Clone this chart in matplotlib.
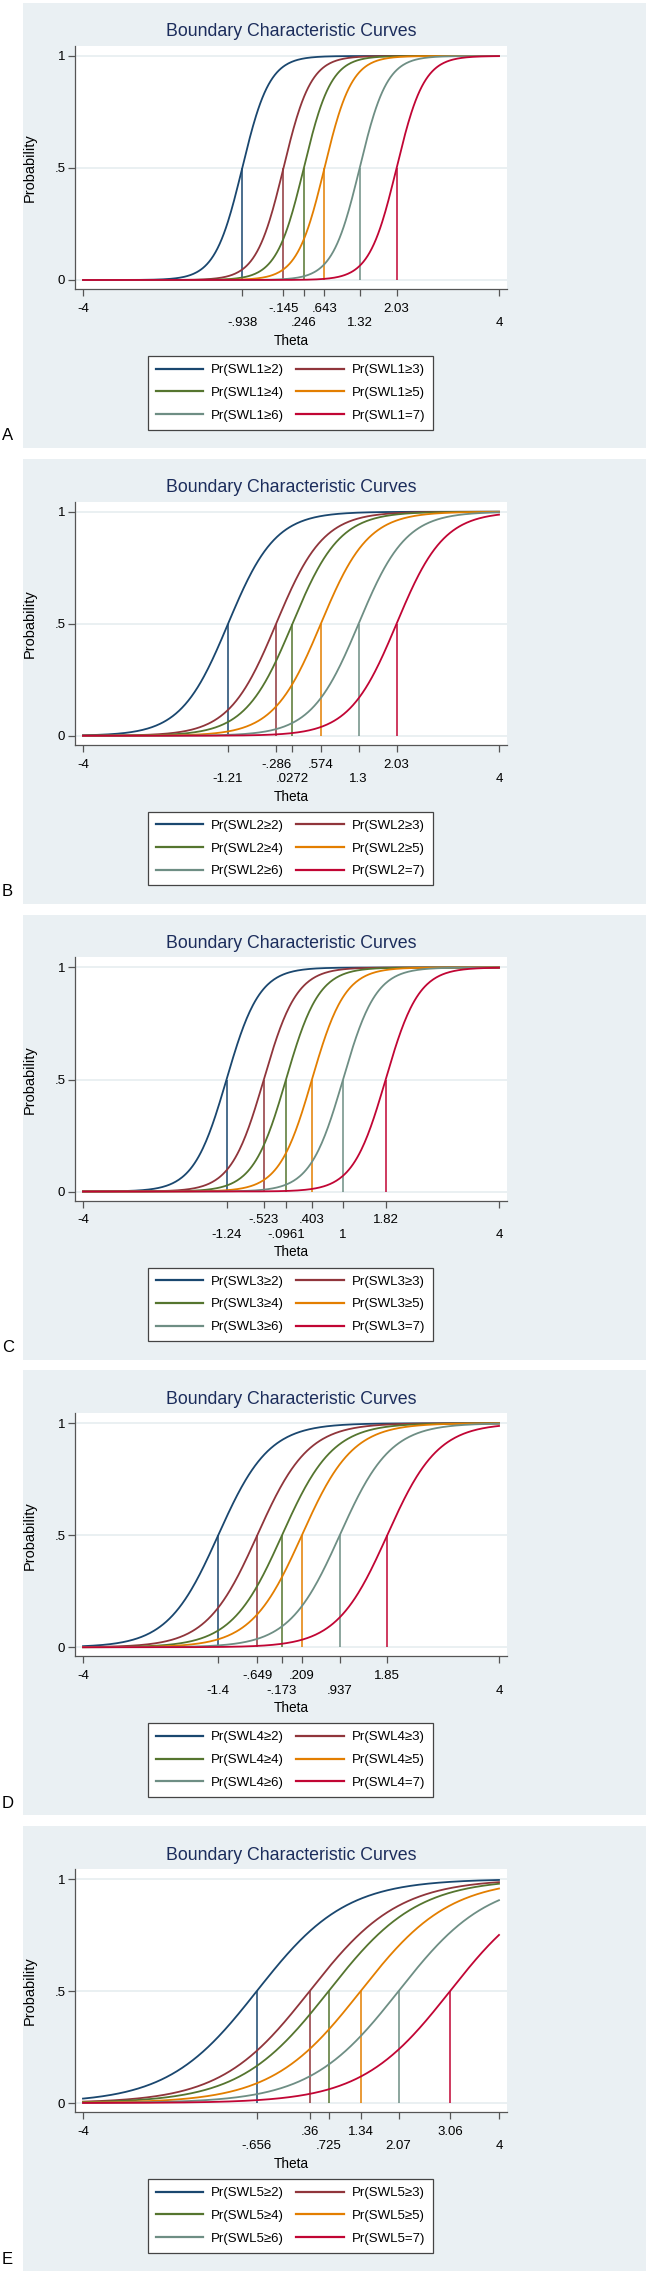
import numpy as np
import matplotlib
matplotlib.use("Agg")
import matplotlib.pyplot as plt
from matplotlib.patches import Rectangle

plt.rcParams['font.family'] = ['Liberation Sans', 'DejaVu Sans']

# item parameters (graded response model)
items = ['SWL1', 'SWL2', 'SWL3', 'SWL4', 'SWL5']
panel_letters = ['A', 'B', 'C', 'D', 'E']
discrimination = [3.8, 2.2, 3.15, 2.05, 1.17]
thresholds_1 = [-0.938, -0.145, 0.246, 0.643, 1.32, 2.03]
thresholds_2 = [-1.21, -0.286, 0.0272, 0.574, 1.3, 2.03]
thresholds_3 = [-1.24, -0.523, -0.0961, 0.403, 1.0, 1.82]
thresholds_4 = [-1.4, -0.649, -0.173, 0.209, 0.937, 1.85]
thresholds_5 = [-0.656, 0.36, 0.725, 1.34, 2.07, 3.06]
thresholds = [thresholds_1, thresholds_2, thresholds_3, thresholds_4, thresholds_5]
threshold_labels = [
    ['-.938', '-.145', '.246', '.643', '1.32', '2.03'],
    ['-1.21', '-.286', '.0272', '.574', '1.3', '2.03'],
    ['-1.24', '-.523', '-.0961', '.403', '1', '1.82'],
    ['-1.4', '-.649', '-.173', '.209', '.937', '1.85'],
    ['-.656', '.36', '.725', '1.34', '2.07', '3.06'],
]
categories = ['\u22652', '\u22653', '\u22654', '\u22655', '\u22656', '=7']

colors = ['#1a476f', '#90353b', '#55752f', '#e37e00', '#6e8e84', '#c10534']
bg = '#eaf0f3'
title_col = '#1c2d5c'

W, H = 646, 2275
fig = plt.figure(figsize=(W / 100, H / 100), dpi=100)
fig.patch.set_facecolor('white')


def fx(x):
    return x / W


def fy(y):
    return 1 - y / H


theta = np.linspace(-4, 4, 400)

for i, item in enumerate(items):
    y1 = 56 + 455.75 * i  # pixel row of probability = 1

    fig.patches.append(Rectangle((fx(23), fy(y1 + 392)), fx(646) - fx(23), 445 / H,
                                 transform=fig.transFigure, facecolor=bg, edgecolor='none', zorder=-10))

    ax = fig.add_axes([fx(75), fy(y1 + 233), 432 / W, 243 / H])
    ax.set_zorder(1)
    ax.set_facecolor('white')
    ax.set_xlim(-4 - 8 / 52, 4 + 8 / 52)
    ax.set_ylim(-9 / 224, 1 + 10 / 224)

    for g in [0, 0.5, 1]:
        ax.axhline(g, color='#e6eef0', lw=1.2, zorder=1)

    a = discrimination[i]
    handles = []
    for k, b in enumerate(thresholds[i]):
        p = 1 / (1 + np.exp(-a * (theta - b)))
        h, = ax.plot(theta, p, color=colors[k], lw=1.3, zorder=3,
                     label='Pr(%s%s)' % (item, categories[k]))
        handles.append(h)
        ax.vlines(b, 0, 0.5, color=colors[k], lw=1.1, zorder=2)

    for s in ['top', 'right']:
        ax.spines[s].set_visible(False)
    for s in ['left', 'bottom']:
        ax.spines[s].set_color('#555555')
        ax.spines[s].set_linewidth(0.9)

    # tick labels alternate between two rows, as Stata does
    ticks = [-4] + thresholds[i] + [4]
    labs = ['-4'] + threshold_labels[i] + ['4']
    ax.set_xticks(ticks)
    ax.set_xticklabels(labs, fontsize=9.5)
    ax.tick_params(axis='x', length=5, width=0.9, color='#555555')
    for j, t in enumerate(ax.xaxis.get_major_ticks()):
        t.set_pad(5 if j % 2 == 0 else 15.5)
    ax.set_yticks([0, 0.5, 1])
    ax.set_yticklabels(['0', '.5', '1'], fontsize=9.5)
    ax.tick_params(axis='y', length=5, width=0.9, color='#555555', pad=2)

    fig.text(fx(30), fy(y1 + 112), 'Probability', rotation=90, ha='center', va='center', fontsize=10.5)
    fig.text(fx(291), fy(y1 + 285), 'Theta', ha='center', va='center', fontsize=9.8)
    fig.text(fx(291), fy(y1 - 24), 'Boundary Characteristic Curves', ha='center', va='center',
             fontsize=12.8, color=title_col)
    fig.text(fx(2), fy(y1 + 380), panel_letters[i], ha='left', va='center', fontsize=12)

    order = [0, 2, 4, 1, 3, 5]
    leg = fig.legend([handles[j] for j in order], [handles[j].get_label() for j in order],
                     ncol=2, loc='upper left', mode='expand',
                     bbox_to_anchor=(fx(148), fy(y1 + 300) - 71 / H, 285 / W, 71 / H),
                     fontsize=9.5, handlelength=3.6, handletextpad=0.6, labelspacing=0.8,
                     borderaxespad=0, borderpad=0.6, fancybox=False, framealpha=1,
                     edgecolor='#444444')
    leg.get_frame().set_linewidth(0.9)
    for ln in leg.get_lines():
        ln.set_linewidth(1.6)

fig.savefig('out.png', dpi=100, facecolor='white')
